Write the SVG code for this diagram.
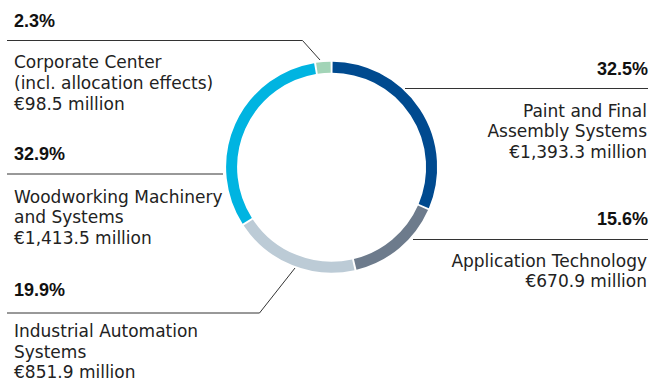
<svg xmlns="http://www.w3.org/2000/svg" width="651" height="383" viewBox="0 0 651 383">
<style>
.seg{fill:none;stroke-width:11;stroke-linecap:butt}
.lead{fill:none;stroke:#333;stroke-width:1}
.pct{font-family:"Liberation Sans",Arial,sans-serif;font-weight:bold;font-size:18px;fill:#111}
.lbl{font-family:"DejaVu Sans",sans-serif;font-size:17px;fill:#222}
.r{text-anchor:end}
</style>
<rect width="651" height="383" fill="#fff"/>
<g id="connectors">
<polyline class="lead" points="7,40.5 302.5,40.5 320,60"/>
<line class="lead" x1="405" y1="88.5" x2="648" y2="88.5"/>
<line class="lead" x1="413" y1="239.5" x2="648" y2="239.5"/>
<line class="lead" x1="7" y1="174" x2="223" y2="174"/>
<polyline class="lead" points="7,313 259.5,313 295,268"/>
</g>
<g id="paint">
<path class="seg" stroke="#004a8f" d="M332.56,67.2 A100,100 0 0 1 423.75,206.04"/>
<text class="pct r" x="648" y="75">32.5%</text>
<text class="lbl r" x="647" y="116.5">Paint and Final</text>
<text class="lbl r" x="647" y="137">Assembly Systems</text>
<text class="lbl r" x="647" y="157.5">€1,393.3 million</text>
</g>
<g id="application">
<path class="seg" stroke="#6d7b8c" d="M423,207.8 A100,100 0 0 1 355.2,264.4"/>
<text class="pct r" x="648" y="225">15.6%</text>
<text class="lbl r" x="647" y="266.5">Application Technology</text>
<text class="lbl r" x="647" y="286.5">€670.9 million</text>
</g>
<g id="industrial">
<path class="seg" stroke="#bccbd6" d="M353.33,264.81 A100,100 0 0 1 248.26,222.47"/>
<text class="pct" x="14" y="296">19.9%</text>
<text class="lbl" x="14" y="337">Industrial Automation</text>
<text class="lbl" x="14" y="357.5">Systems</text>
<text class="lbl" x="14" y="378">€851.9 million</text>
</g>
<g id="woodworking">
<path class="seg" stroke="#00b4e1" d="M247.22,220.86 A100,100 0 0 1 315.01,68.59"/>
<text class="pct" x="14" y="159.5">32.9%</text>
<text class="lbl" x="14" y="202.5">Woodworking Machinery</text>
<text class="lbl" x="14" y="223">and Systems</text>
<text class="lbl" x="14" y="243.5">€1,413.5 million</text>
</g>
<g id="corporate">
<path class="seg" stroke="#a2d4b7" d="M316.9,68.29 A100,100 0 0 1 330.64,67.2"/>
<text class="pct" x="14" y="27">2.3%</text>
<text class="lbl" x="14" y="68">Corporate Center</text>
<text class="lbl" x="14" y="89">(incl. allocation effects)</text>
<text class="lbl" x="14" y="110">€98.5 million</text>
</g>
</svg>
